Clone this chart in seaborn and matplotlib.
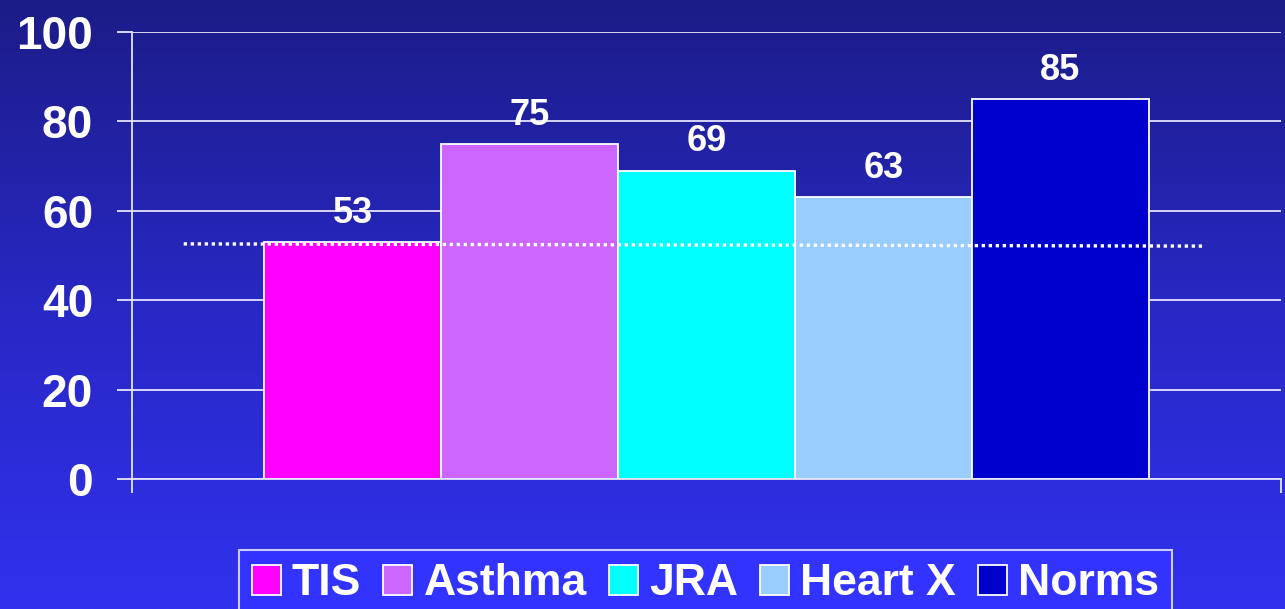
import numpy as np
import pandas as pd
import matplotlib
matplotlib.use("Agg")
import matplotlib.pyplot as plt
import seaborn as sns
from matplotlib.colors import LinearSegmentedColormap

# ---- data ----
groups = ["TIS", "Asthma", "JRA", "Heart X", "Norms"]
values = [53, 75, 69, 63, 85]
bar_colors = ["#ff00ff", "#cc66ff", "#00ffff", "#99ccff", "#0000cc"]
y_ticks = [0, 20, 40, 60, 80, 100]
ref_x = [-0.455, 0.434]
ref_y = [52.6, 52.1]

sns.set_theme(style="white")
plt.rcParams["font.family"] = ["Liberation Sans", "DejaVu Sans"]
plt.rcParams["font.weight"] = "bold"

W, H, DPI = 1285, 609, 100
fig = plt.figure(figsize=(W / DPI, H / DPI), dpi=DPI)

# gradient background
bg = fig.add_axes([0, 0, 1, 1], zorder=-10)
cmap = LinearSegmentedColormap.from_list("bgc", ["#1c1c88", "#2828c4", "#3131ee"])
grad = np.linspace(0, 1, 256).reshape(-1, 1)
bg.imshow(grad, aspect="auto", cmap=cmap, extent=[0, 1, 0, 1], origin="upper")
bg.set_axis_off()

ax = fig.add_axes([132 / W, 1 - 479 / H, (1281 - 132) / W, (479 - 32) / H])
ax.set_facecolor("none")

df = pd.DataFrame({"cat": [""] * len(groups), "group": groups, "value": values})
sns.barplot(data=df, x="cat", y="value", hue="group", hue_order=groups,
            palette=bar_colors, width=0.77, edgecolor="white", linewidth=1.3,
            saturation=1, ax=ax, legend=True)

for cont in ax.containers:
    ax.bar_label(cont, labels=[f"{v:.0f}" for v in cont.datavalues], padding=8,
                 color="white", fontsize=26, fontweight="bold")

ax.plot(ref_x, ref_y, color="white", linestyle=(0, (1, 1.1)), linewidth=2.4,
        zorder=5)

ax.set_xlim(-0.5, 0.5)
ax.set_ylim(0, 100)
ax.set_yticks(y_ticks)
ax.set_yticklabels([str(t) for t in y_ticks])
ax.set_xticks([-0.5, 0.5])
ax.set_xticklabels(["", ""])
ax.set_xlabel("")
ax.set_ylabel("")
ax.set_axisbelow(True)
ax.yaxis.grid(True, color="#e4e4ff", linewidth=1.3)
ax.xaxis.grid(False)
for s in ["top", "right"]:
    ax.spines[s].set_visible(False)
for s in ["left", "bottom"]:
    ax.spines[s].set_visible(True)
    ax.spines[s].set_color("#e4e4ff")
    ax.spines[s].set_linewidth(1.3)
ax.tick_params(axis="y", which="both", direction="out", length=11, width=1.3,
               color="#e4e4ff", labelcolor="white", labelsize=33, pad=17, left=True)
ax.tick_params(axis="x", which="both", direction="out", length=10, width=1.3,
               color="#e4e4ff", bottom=True)
for lab in ax.get_yticklabels():
    lab.set_fontweight("bold")

handles, labels = ax.get_legend_handles_labels()
ax.get_legend().remove()
leg = fig.legend(handles, labels, loc="upper center", ncol=5,
                 bbox_to_anchor=(705.5 / W, 1 - 550 / H),
                 prop={"size": 32, "weight": "bold"},
                 handlelength=0.65, handleheight=0.65, handletextpad=0.25,
                 columnspacing=0.5, borderpad=0.3, borderaxespad=0,
                 frameon=True, fancybox=False, facecolor="#3333ff",
                 edgecolor="#ccccff", framealpha=1)
leg.get_frame().set_linewidth(1.5)
for t in leg.get_texts():
    t.set_color("white")

fig.savefig("out.png", dpi=DPI)
